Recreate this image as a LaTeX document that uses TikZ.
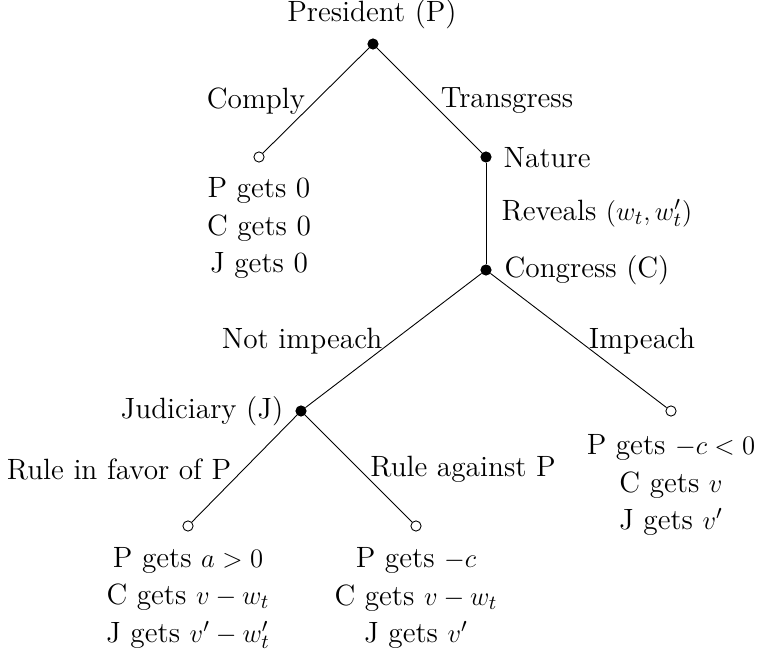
\documentclass[tikz,border=0pt]{standalone}
\begin{document}
\begin{tikzpicture}[x=0.45pt,y=-0.45pt,
  font=\fontsize{13.2}{16.9}\selectfont,
  dec/.style={circle,fill=black,draw=black,inner sep=0pt,minimum size=4.6pt},
  term/.style={circle,fill=white,draw=black,inner sep=0pt,minimum size=4.6pt},
  lbl/.style={inner sep=1pt},
  pay/.style={align=center,inner sep=0pt},
  edge/.style={draw=black,line width=0.4pt}]
\useasboundingbox (0,0) rectangle (762,653);
% decision nodes
\node[dec] (P) at (373,44) {};
\node[dec] (N) at (486,157) {};
\node[dec] (C) at (486,270) {};
\node[dec] (J) at (301,411) {};
% terminal nodes
\node[term] (T0) at (259,157) {};
\node[term] (T1) at (671,411) {};
\node[term] (T2) at (188,526) {};
\node[term] (T3) at (416,526) {};
% edges
\draw[edge] (P) -- (T0);
\draw[edge] (P) -- (N);
\draw[edge] (N) -- (C);
\draw[edge] (C) -- (J);
\draw[edge] (C) -- (T1);
\draw[edge] (J) -- (T2);
\draw[edge] (J) -- (T3);
% player labels
\node[lbl] (lP) at (372,14) {President (P)};
\node[lbl,anchor=west] (lN) at (501,158) {Nature};
\node[lbl,anchor=west] (lC) at (502,270) {Congress (C)};
\node[lbl,anchor=east] (lJ) at (286,411) {Judiciary (J)};
% action labels
\node[lbl] (aComply) at (256,101) {Comply};
\node[lbl] (aTrans) at (507,101) {Transgress};
\node[lbl] (aRev) at (597,213) {Reveals $(w_t,w_t')$};
\node[lbl] (aNot) at (302,341) {Not impeach};
\node[lbl] (aImp) at (642,341) {Impeach};
\node[lbl] (aFav) at (119,469) {Rule in favor of P};
\node[lbl] (aAg) at (463,469) {Rule against P};
% payoffs
\node[pay] (p0) at (259,228) {P gets 0\\C gets 0\\J gets 0};
\node[pay] (p1) at (671,485) {P gets $-c<0$\\C gets $v$\\J gets $v'$};
\node[pay] (p2) at (188,598) {P gets $a>0$\\C gets $v-w_t$\\J gets $v'-w_t'$};
\node[pay] (p3) at (416,598) {P gets $-c$\\C gets $v-w_t$\\J gets $v'$};
\end{tikzpicture}
\end{document}
